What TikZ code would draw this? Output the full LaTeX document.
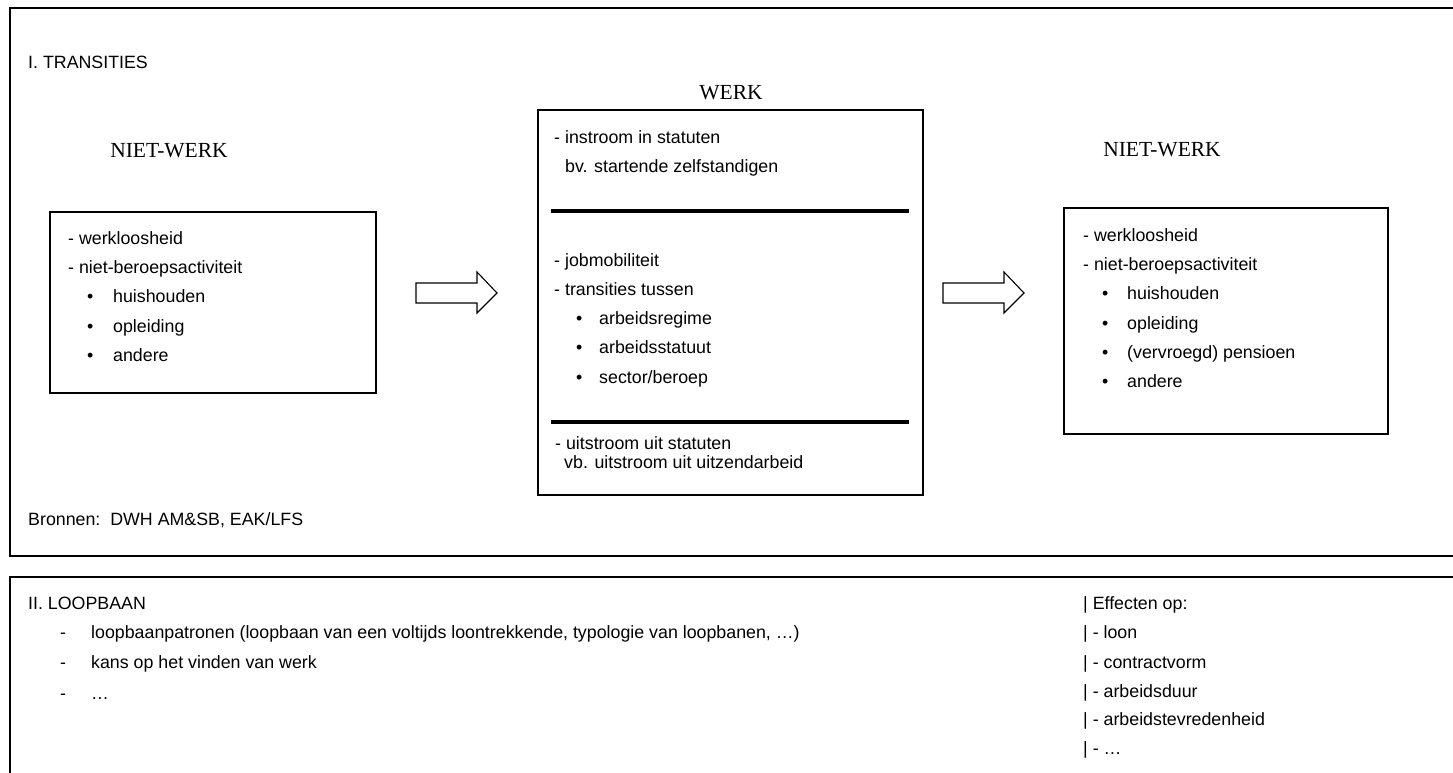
\documentclass[tikz,border=0pt]{standalone}
\usepackage{fontspec}
\setmainfont{Liberation Sans}
\newfontfamily\serifx{Liberation Serif}
\begin{document}
\begin{tikzpicture}[x=1pt,y=-1pt,
  txt/.style={anchor=base west,inner sep=0pt,font=\fontsize{17.8}{20}\selectfont},
  bul/.style={anchor=base west,inner sep=0pt,font=\fontsize{17.8}{20}\selectfont},
  headx/.style={anchor=base,inner sep=0pt,font=\serifx\fontsize{21.5}{24}\selectfont},
  boxx/.style={draw,line width=1.2pt,inner sep=0pt},
  outerx/.style={line width=1.6pt},
  rulex/.style={line width=3.6pt},
  blockarrow/.style={draw,line width=1.1pt,line join=miter}]
\useasboundingbox (0,0) rectangle (1453,772);
\clip (0,0) rectangle (1453,772);
% outer frames
\draw[outerx] (1470,8) -- (10,8) -- (10,556) -- (1470,556);
\draw[outerx] (1470,577) -- (10,577) -- (10,790);
% section I
\node[txt] (t1) at (28,68) {I. TRANSITIES};
\node[headx] (nwl) at (169,157) {NIET-WERK};
\node[headx] (wk) at (731,99) {WERK};
\node[headx] (nwr) at (1162,156) {NIET-WERK};
% boxes
\node[boxx,minimum width=326pt,minimum height=181pt] (boxL) at (213,302.5) {};
\node[boxx,minimum width=385pt,minimum height=385pt] (boxW) at (730.5,302.5) {};
\node[boxx,minimum width=324pt,minimum height=226pt] (boxR) at (1226,321) {};
% left box text
\node[txt] (l1) at (68,244) {- werkloosheid};
\node[txt] (l2) at (68,273) {- niet-beroepsactiviteit};
\node[bul] (lb1) at (87,302) {•};
\node[txt] (l3) at (113,302) {huishouden};
\node[bul] (lb2) at (87,332) {•};
\node[txt] (l4) at (113,332) {opleiding};
\node[bul] (lb3) at (87,361) {•};
\node[txt] (l5) at (113,361) {andere};
% werk box text
\node[txt] (w1) at (554,143) {- instroom in statuten};
\node[txt] (w2) at (565,172) {bv. startende zelfstandigen};
\coordinate (r1a) at (551,211); \coordinate (r1b) at (909,211);
\draw[rulex] (r1a) -- (r1b);
\node[txt] (w3) at (554,266) {- jobmobiliteit};
\node[txt] (w4) at (554,295) {- transities tussen};
\node[bul] (wb1) at (576,324) {•};
\node[txt] (w5) at (599,324) {arbeidsregime};
\node[bul] (wb2) at (576,353) {•};
\node[txt] (w6) at (599,353) {arbeidsstatuut};
\node[bul] (wb3) at (576,383) {•};
\node[txt] (w7) at (599,383) {sector/beroep};
\coordinate (r2a) at (551,422); \coordinate (r2b) at (909,422);
\draw[rulex] (r2a) -- (r2b);
\node[txt] (w8) at (555,449) {- uitstroom uit statuten};
\node[txt] (w9) at (564,468) {vb. uitstroom uit uitzendarbeid};
% right box text
\node[txt] (r1) at (1083,241) {- werkloosheid};
\node[txt] (r2) at (1083,270) {- niet-beroepsactiviteit};
\node[bul] (rb1) at (1102,299) {•};
\node[txt] (r3) at (1127,299) {huishouden};
\node[bul] (rb2) at (1102,329) {•};
\node[txt] (r4) at (1127,329) {opleiding};
\node[bul] (rb3) at (1102,358) {•};
\node[txt] (r5) at (1127,358) {(vervroegd) pensioen};
\node[bul] (rb4) at (1102,387) {•};
\node[txt] (r6) at (1127,387) {andere};
% block arrows
\draw[blockarrow] (416,283) -- (477,283) -- (477,272) -- (497,293) -- (477,313) -- (477,303) -- (416,303) -- cycle;
\draw[blockarrow] (943,283) -- (1004,283) -- (1004,272) -- (1024,293) -- (1004,313) -- (1004,303) -- (943,303) -- cycle;
\node[txt] (src) at (28,525) {Bronnen:\ \ DWH AM\&SB, EAK/LFS};
% section II
\node[txt] (t2) at (28,609) {II. LOOPBAAN};
\node[txt] (d1) at (60,638) {-};
\node[txt] (i1) at (91,638) {loopbaanpatronen (loopbaan van een voltijds loontrekkende, typologie van loopbanen, …)};
\node[txt] (d2) at (60,668) {-};
\node[txt] (i2) at (91,668) {kans op het vinden van werk};
\node[txt] (d3) at (60,699) {-};
\node[txt] (i3) at (91,699) {…};
\node[txt] (e0) at (1083,609) {| Effecten op:};
\node[txt] (e1) at (1083,638) {| - loon};
\node[txt] (e2) at (1083,668) {| - contractvorm};
\node[txt] (e3) at (1083,697) {| - arbeidsduur};
\node[txt] (e4) at (1083,725) {| - arbeidstevredenheid};
\node[txt] (e5) at (1083,754) {| - …};
\end{tikzpicture}
\end{document}
